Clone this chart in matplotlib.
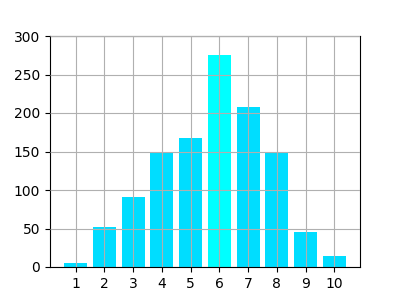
import matplotlib
matplotlib.use("Agg")
import matplotlib.pyplot as plt

# values
categories = [1, 2, 3, 4, 5, 6, 7, 8, 9, 10]
counts = [5, 52, 91, 149, 168, 275, 208, 149, 46, 14]
peak_index = 5

fig, ax = plt.subplots(figsize=(4, 3), dpi=100)

colors = ['#00DDFF'] * len(categories)
colors[peak_index] = '#00FFFF'
ax.bar(categories, counts, color=colors)

ax.set_xticks(categories)
ax.set_ylim(0, 300)
ax.set_yticks(range(0, 301, 50))
ax.grid(True)
ax.set_axisbelow(False)

fig.savefig('out.png', dpi=100)
